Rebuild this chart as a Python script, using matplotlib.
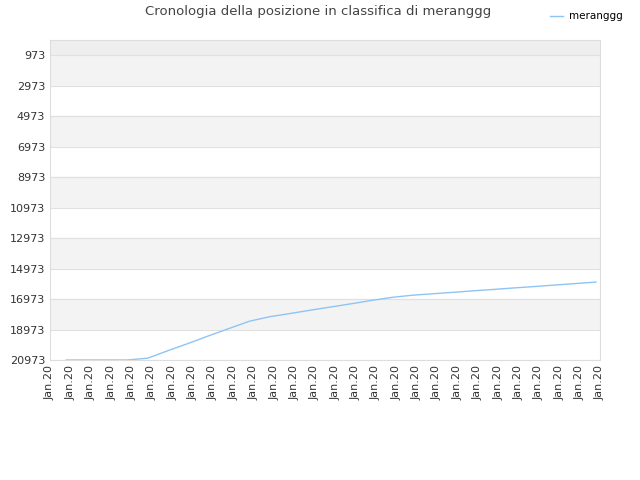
import matplotlib.pyplot as plt
import numpy as np

# ranking history (lower number = better position)
positions = [20973, 20973, 20973, 20973, 20854, 20355, 19880, 19380, 18900, 18425,
             18128, 17920, 17700, 17490, 17280, 17060, 16860, 16720, 16625, 16530,
             16430, 16340, 16240, 16150, 16050, 15955, 15858]
tick_labels = ["Jan.20"] * 28
y_ticks = [973, 2973, 4973, 6973, 8973, 10973, 12973, 14973, 16973, 18973, 20973]

fig = plt.figure(figsize=(6.4, 4.8), dpi=100)
ax = fig.add_axes([50 / 640, 120 / 480, 550 / 640, 320 / 480])

# alternating background bands
ax.axhspan(-30, 973, color="#eeeeee", zorder=0)
for lo in range(973, 20973, 2000):
    idx = (lo - 973) // 2000
    col = "#f3f3f3" if idx % 2 == 0 else "white"
    ax.axhspan(lo, lo + 2000, color=col, zorder=0)
for t in y_ticks:
    ax.axhline(t, color="#e0e0e0", lw=0.8, zorder=1)

x = np.arange(len(positions)) + 0.8
ax.plot(x, positions, color="#8ec4f5", lw=1, label="meranggg", zorder=2)

ax.set_xlim(0, 27)
ax.set_ylim(20973, -30)
ax.set_xticks(np.arange(28))
ax.set_xticklabels(tick_labels, rotation=90, fontsize=8, color="#333333")
ax.set_yticks(y_ticks)
ax.set_yticklabels([str(t) for t in y_ticks], fontsize=8, color="#333333")
ax.tick_params(length=0)
for s in ax.spines.values():
    s.set_color("#dddddd")

fig.text(318 / 640, 1 - 12 / 480, "Cronologia della posizione in classifica di meranggg",
         ha="center", va="center", fontsize=9.5, color="#444444")
fig.legend(loc="upper right", bbox_to_anchor=(632 / 640, 1 - 2 / 480), frameon=False,
           fontsize=7.5, handlelength=1.2, handletextpad=0.6)

fig.savefig("out.png")
